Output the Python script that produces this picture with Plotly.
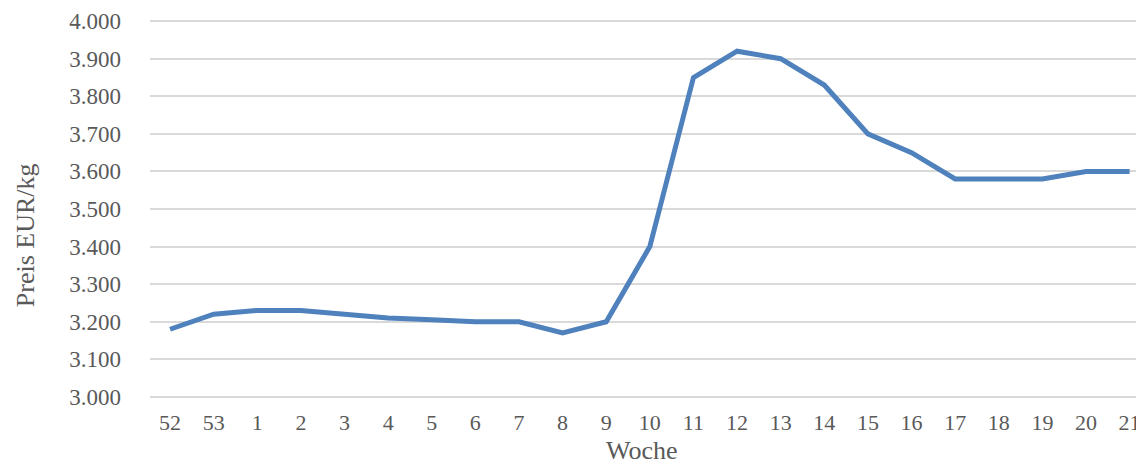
import plotly.graph_objects as go

wochen = ["52", "53", "1", "2", "3", "4", "5", "6", "7", "8", "9", "10",
          "11", "12", "13", "14", "15", "16", "17", "18", "19", "20", "21"]
preis = [3.18, 3.22, 3.23, 3.23, 3.22, 3.21, 3.205, 3.20, 3.20, 3.17, 3.20, 3.40,
         3.85, 3.92, 3.90, 3.83, 3.70, 3.65, 3.58, 3.58, 3.58, 3.60, 3.60]

font_family = "Liberation Serif"
grey = "#595959"

fig = go.Figure()
fig.add_trace(go.Scatter(
    x=wochen, y=preis, mode="lines",
    line=dict(color="#4F81BD", width=5),
    hoverinfo="x+y", showlegend=False,
))

fig.update_layout(
    width=1136, height=457,
    margin=dict(l=142, r=0, t=12, b=67),
    paper_bgcolor="white", plot_bgcolor="white",
    font=dict(family=font_family, color=grey, size=22),
    xaxis=dict(
        type="category", range=[-0.46, 22.33],
        showgrid=False, showline=False, zeroline=False,
        ticks="", tickfont=dict(size=22, color=grey),
        ticklabelstandoff=9,
    ),
    yaxis=dict(
        range=[2.997, 4.003],
        tickvals=[3.0, 3.1, 3.2, 3.3, 3.4, 3.5, 3.6, 3.7, 3.8, 3.9, 4.0],
        tickformat=".3f",
        showgrid=True, gridcolor="#D9D9D9", gridwidth=1.5,
        showline=False, zeroline=False, ticks="",
        tickfont=dict(size=23, color=grey),
        ticklabelstandoff=28,
    ),
    annotations=[
        dict(text="Woche", xref="paper", yref="paper", x=0.495, y=-0.14,
             xanchor="center", yanchor="middle", showarrow=False,
             font=dict(size=26, color=grey, family=font_family)),
        dict(text="Preis EUR/kg", xref="paper", yref="paper", x=-0.125, y=0.43,
             xanchor="center", yanchor="middle", showarrow=False, textangle=-90,
             font=dict(size=26, color=grey, family=font_family)),
    ],
)

fig.write_html("out.html")
